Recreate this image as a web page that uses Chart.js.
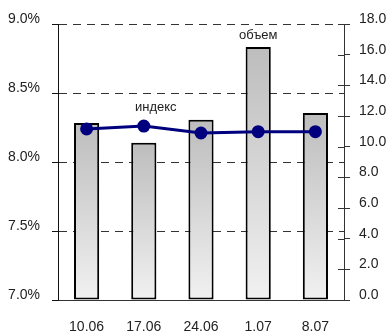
<!DOCTYPE html>
<html>
<head>
<meta charset="utf-8">
<script src="https://cdn.jsdelivr.net/npm/chart.js@4"></script>
<style>
  html, body { margin: 0; padding: 0; background: #fff; }
  #wrap { width: 387px; height: 333px; }
</style>
</head>
<body>
<div id="wrap"><canvas id="c" width="387" height="333"></canvas></div>
<script>
// Weekly dates, trading volume (right axis) and index yield (left axis, %)
const categories = ['10.06', '17.06', '24.06', '1.07', '8.07'];
const volumeValues = [11.55, 10.25, 11.75, 16.5, 12.2];
const indexValues = [8.24, 8.26, 8.21, 8.22, 8.22];
const leftTicks = [7.0, 7.5, 8.0, 8.5, 9.0];
const rightTicks = [0, 2, 4, 6, 8, 10, 12, 14, 16, 18];
const indexLabel = 'индекс';
const volumeLabel = 'объем';

const FONT = "'Liberation Sans', Arial, sans-serif";

// vertical gray gradient spanning each bar from its top to the baseline
function barFill(ctx) {
  const chart = ctx.chart;
  const sc = chart.scales.y2;
  if (!sc || ctx.raw === undefined) return '#d0d0d0';
  const top = sc.getPixelForValue(ctx.raw);
  const bottom = sc.getPixelForValue(0);
  if (!isFinite(top) || !isFinite(bottom)) return '#d0d0d0';
  const g = chart.ctx.createLinearGradient(0, top, 0, bottom);
  g.addColorStop(0, '#bdbdbd');
  g.addColorStop(1, '#f1f1f1');
  return g;
}

// short tick marks on the inner side of the right axis
const innerTicks = {
  id: 'innerTicks',
  afterDraw(chart) {
    const sc = chart.scales.y2;
    const c = chart.ctx;
    c.save();
    c.strokeStyle = '#333';
    c.lineWidth = 1;
    sc.ticks.forEach(t => {
      const y = Math.round(sc.getPixelForValue(t.value)) + 0.5;
      c.beginPath();
      c.moveTo(sc.left - 6, y);
      c.lineTo(sc.left, y);
      c.stroke();
    });
    c.restore();
  }
};

// series names written next to their marks
const seriesNames = {
  id: 'seriesNames',
  afterDatasetsDraw(chart) {
    const c = chart.ctx;
    c.save();
    c.font = '13px ' + FONT;
    c.fillStyle = '#222';
    c.textAlign = 'center';
    c.textBaseline = 'middle';
    const p = chart.getDatasetMeta(1).data[1];
    c.fillText(indexLabel, p.x + 12, p.y - 19);
    const b = chart.getDatasetMeta(0).data[3];
    c.fillText(volumeLabel, b.x, b.y - 12);
    c.restore();
  }
};

new Chart(document.getElementById('c'), {
  data: {
    labels: categories,
    datasets: [
      {
        type: 'bar',
        label: volumeLabel,
        data: volumeValues,
        yAxisID: 'y2',
        backgroundColor: barFill,
        borderColor: '#000',
        borderWidth: 2,
        borderSkipped: false,
        barPercentage: 0.44,
        categoryPercentage: 1,
        order: 2
      },
      {
        type: 'line',
        label: indexLabel,
        data: indexValues,
        yAxisID: 'y',
        borderColor: '#00007f',
        backgroundColor: '#00007f',
        borderWidth: 3,
        pointRadius: 5,
        pointHoverRadius: 5,
        tension: 0,
        order: 1
      }
    ]
  },
  options: {
    responsive: false,
    animation: false,
    events: [],
    layout: { padding: { top: 24, left: 0, right: 0, bottom: 0 } },
    plugins: {
      legend: { display: false },
      tooltip: { enabled: false },
      title: { display: false }
    },
    scales: {
      x: {
        type: 'category',
        offset: true,
        grid: { display: false, drawTicks: false },
        border: { display: true, color: '#333', width: 1 },
        ticks: {
          color: '#222',
          font: { family: FONT, size: 14 },
          padding: 19,
          maxRotation: 0
        },
        afterFit(s) { s.height = 33; }
      },
      y: {
        position: 'left',
        min: 7.0,
        max: 9.0,
        afterBuildTicks(s) { s.ticks = leftTicks.map(v => ({ value: v })); },
        grid: {
          color: '#333',
          lineWidth: 1,
          tickLength: 6,
          tickColor: '#111',
          tickBorderDash: []
        },
        border: { display: true, color: '#111', width: 1, dash: [8, 6], dashOffset: 0 },
        ticks: {
          color: '#222',
          font: { family: FONT, size: 14, lineHeight: '10px' },
          padding: 12,
          callback: v => [v.toFixed(1) + '%', '']
        },
        afterFit(s) { s.width = 58; }
      },
      y2: {
        position: 'right',
        min: 0,
        max: 18,
        afterBuildTicks(s) { s.ticks = rightTicks.map(v => ({ value: v })); },
        grid: {
          drawOnChartArea: false,
          tickLength: 6,
          tickColor: '#333'
        },
        border: { display: true, color: '#333', width: 1 },
        ticks: {
          color: '#222',
          font: { family: FONT, size: 14, lineHeight: '10px' },
          padding: 9,
          callback: v => [v.toFixed(1), '']
        },
        afterFit(s) { s.width = 43; }
      }
    }
  },
  plugins: [innerTicks, seriesNames]
});
</script>
</body>
</html>
